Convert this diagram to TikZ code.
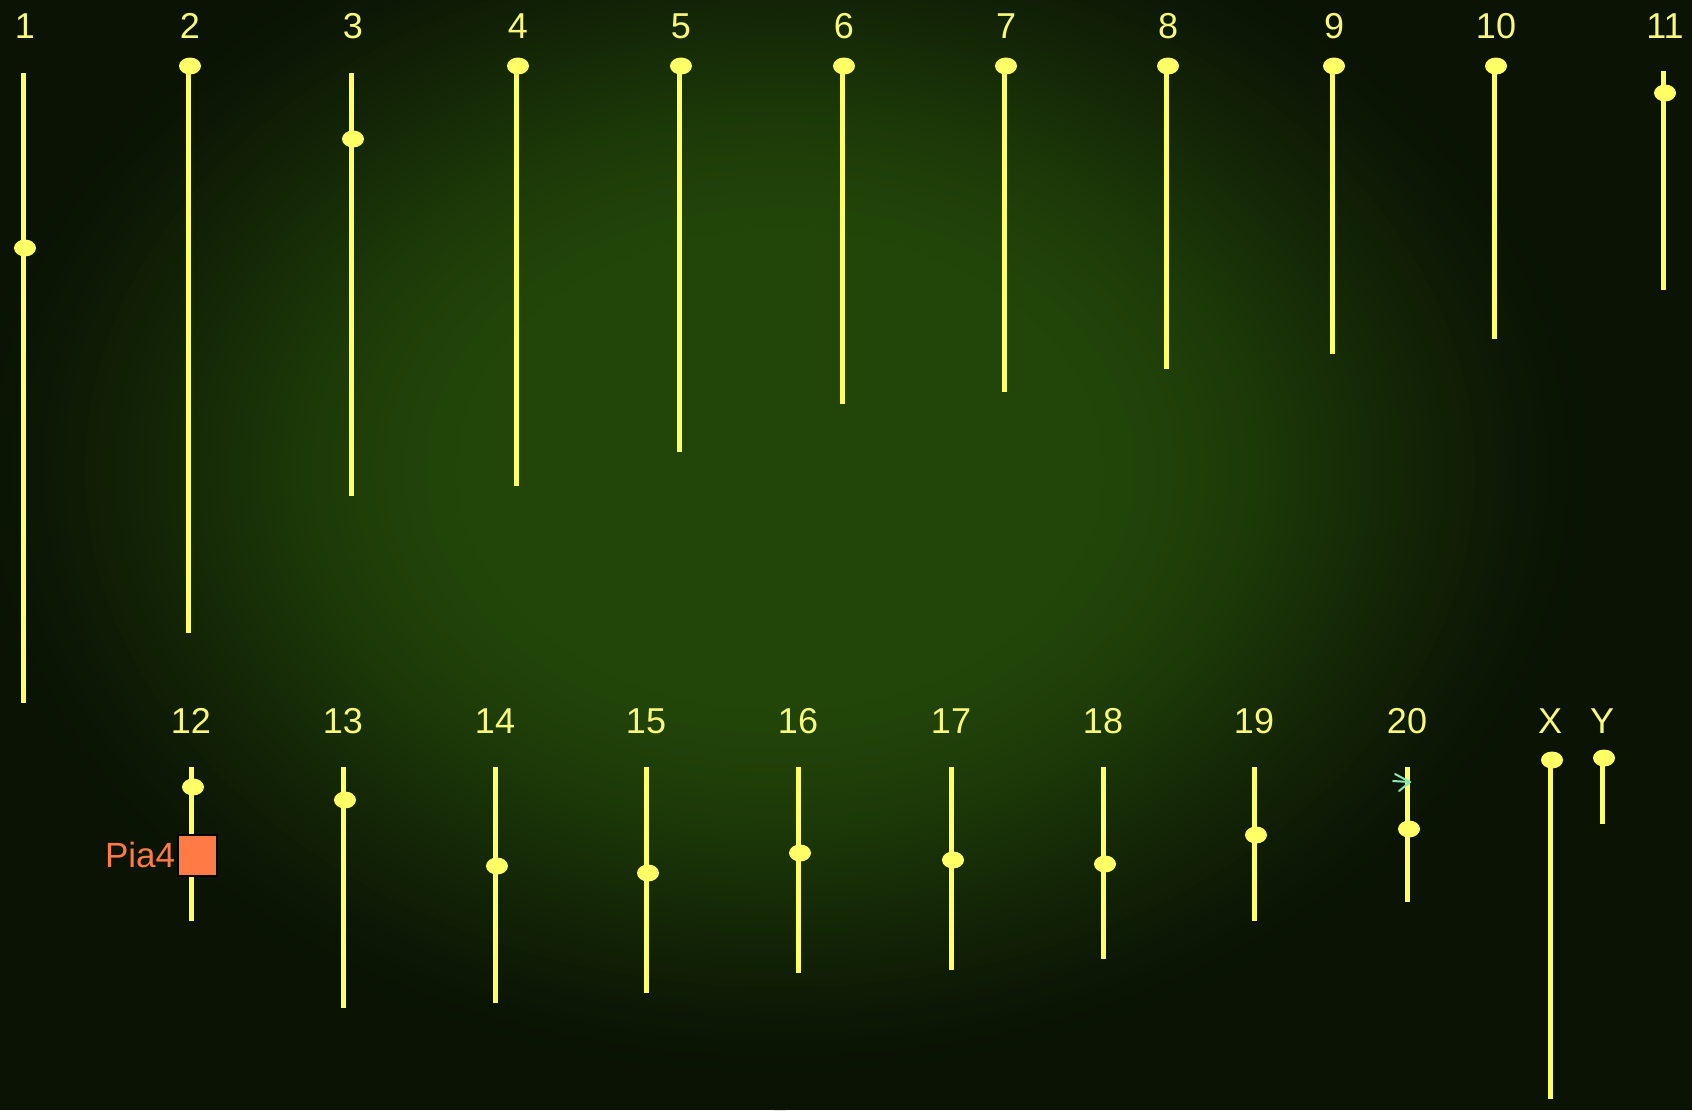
\documentclass[tikz,border=0pt]{standalone}
\usepackage{fontspec}
\setmainfont{Liberation Sans}
\usetikzlibrary{positioning, shapes.geometric}
\definecolor{cbgin}{HTML}{224509}
\definecolor{cbgout}{HTML}{0A1304}
\definecolor{cchrom}{HTML}{FFFF66}
\definecolor{clabel}{HTML}{F8F87A}
\definecolor{cpia}{HTML}{FF7A45}
\definecolor{cmark}{HTML}{86E8AE}
\tikzset{
  chrom/.style={draw=cchrom, line width=2.5pt},
  cen/.style={ellipse, fill=cchrom, inner sep=0pt, minimum width=11pt, minimum height=8.5pt},
  chrlabel/.style={text=clabel, font=\fontsize{18}{20}\selectfont, inner sep=0pt},
  piabox/.style={draw=black, line width=1pt, fill=cpia, minimum width=19.5pt, minimum height=20.5pt, inner sep=0pt},
  pialabel/.style={text=cpia, font=\fontsize{17.5}{20}\selectfont, inner sep=0pt},
  marker/.style={draw=cmark, line width=1pt, line cap=round},
}

\begin{document}
\begin{tikzpicture}[x=0.5pt, y=-0.5pt]
  \useasboundingbox (0,0) rectangle (1692,1110);
  \begin{scope}
    \clip (0,0) rectangle (1692,1110);
    \fill[cbgout] (0,0) rectangle (1692,1110);
    \foreach \i in {0,...,55} {
      \pgfmathsetmacro\rr{1-0.012*\i}
      \pgfmathsetmacro\ss{min(1,(1-\rr)/0.65)}
      \pgfmathtruncatemacro\pp{100*\ss*\ss*(3-2*\ss)}
      \fill[cbgin!\pp!cbgout] (780,470) ellipse [x radius=860*\rr, y radius=640*\rr];
    }
  \end{scope}
  \foreach \n/\x/\t/\c/\b in {1/23/73/248/703, 2/188/66/66/633, 3/351/73/139/496, 4/516/66/66/486,
      5/679/66/66/452, 6/842/66/66/404, 7/1004/66/66/392, 8/1166/66/66/369,
      9/1332/66/66/354, 10/1494/66/66/339, 11/1663/71/93/290} {
    \node[chrlabel] (l\n) at (\x+2,26) {\n};
    \coordinate (t\n) at (\x,\t);
    \coordinate (b\n) at (\x,\b);
    \draw[chrom] (t\n) -- (b\n);
    \node[cen] (c\n) at (\x+2,\c) {};
  }
  \foreach \n/\x/\t/\c/\b in {12/191/767/787/921, 13/343/767/800/1008, 14/495/767/866/1003,
      15/646/767/873/993, 16/798/767/853/973, 17/951/767/860/970, 18/1103/767/864/959,
      19/1254/767/835/921, 20/1407/767/829/902, X/1550/760/760/1099, Y/1602/758/758/824} {
    \node[chrlabel] (l\n) at (\x,721) {\n};
    \coordinate (t\n) at (\x,\t);
    \coordinate (b\n) at (\x,\b);
    \draw[chrom] (t\n) -- (b\n);
    \node[cen] (c\n) at (\x+2,\c) {};
  }
  \node[piabox] (pia4) at (197,855) {};
  \node[pialabel, left=0.5pt of pia4] (lpia4) {Pia4};
  \coordinate (m20) at (1410,782);
  \draw[marker] (m20) -- ++(-15,-8);
  \draw[marker] (m20) -- ++(-17,-1);
  \draw[marker] (m20) -- ++(-11,9);
\end{tikzpicture}
\end{document}
